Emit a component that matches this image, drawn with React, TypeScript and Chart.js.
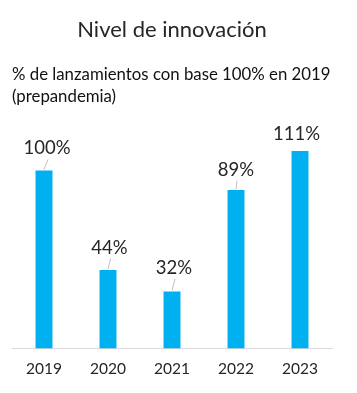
import React, { useEffect, useRef } from "react";
import { Chart, registerables } from "chart.js";

Chart.register(...registerables);

const categories = ["2019", "2020", "2021", "2022", "2023"];
const values = [100, 44, 32, 89, 111];
const valueLabels = ["100%", "44%", "32%", "89%", "111%"];
const titleText = "Nivel de innovación";
const subtitleLines = ["% de lanzamientos con base 100% en 2019", "(prepandemia)"];

const FONT = "Lato, 'Noto Sans', sans-serif";

const labelPlugin = {
  id: "barLabels",
  afterDatasetsDraw(chart: any, _args: any, opts: any) {
    const ctx = chart.ctx;
    const meta = chart.getDatasetMeta(0);
    ctx.save();
    ctx.font = `18.5px ${FONT}`;
    ctx.fillStyle = "#262626";
    ctx.textAlign = "center";
    ctx.textBaseline = "middle";
    meta.data.forEach((bar: any, i: number) => {
      const o = (opts.offsets && opts.offsets[i]) || { dx: 2, dy: 22, line: true };
      const x = bar.x + o.dx;
      const y = bar.y - o.dy;
      ctx.fillText(valueLabels[i], x, y);
      if (o.line) {
        ctx.strokeStyle = "#bfbfbf";
        ctx.lineWidth = 1;
        ctx.beginPath();
        ctx.moveTo(x + 1, y + 11);
        ctx.lineTo(bar.x, bar.y - 1);
        ctx.stroke();
      }
    });
    ctx.restore();
  },
};

export default function App() {
  const ref = useRef<HTMLCanvasElement>(null);
  useEffect(() => {
    if (!ref.current) return;
    const chart = new Chart(ref.current, {
      type: "bar",
      data: {
        labels: categories,
        datasets: [
          {
            data: values,
            backgroundColor: "#00B0F0",
            borderWidth: 0,
            categoryPercentage: 1,
            barPercentage: 0.265,
          },
        ],
      },
      options: {
        responsive: false,
        animation: false,
        layout: { padding: { left: 12, right: 25, bottom: 4, top: 0 } },
        plugins: {
          legend: { display: false },
          tooltip: { enabled: false },
          title: {
            display: true,
            text: titleText,
            color: "#262626",
            font: { family: FONT, size: 22, weight: "normal", lineHeight: 24 / 22 },
            padding: { top: 18, bottom: 22 },
          },
          subtitle: {
            display: true,
            text: subtitleLines,
            align: "start",
            color: "#111111",
            font: { family: FONT, size: 16.8, weight: "normal", lineHeight: 22 / 16.8 },
            padding: { top: 0, bottom: 18 },
          },
          barLabels: {
            offsets: [
              { dx: 3, dy: 22, line: true },
              { dx: 1.5, dy: 22.5, line: true },
              { dx: 2, dy: 23.5, line: true },
              { dx: 0, dy: 20.5, line: true },
              { dx: -3.5, dy: 17, line: false },
            ],
          },
        } as any,
        scales: {
          x: {
            grid: { display: false, drawTicks: false },
            border: { display: true, color: "#d9d9d9", width: 1 },
            ticks: {
              color: "#262626",
              padding: 11,
              font: { family: FONT, size: 15.5 },
            },
          },
          y: {
            display: false,
            min: 0,
            max: 125,
          },
        },
      },
      plugins: [labelPlugin],
    });
    return () => chart.destroy();
  }, []);
  return (
    <div style={{ position: "absolute", left: 0, top: 0, width: 357, height: 393, background: "#fff" }}>
      <canvas ref={ref} width={357} height={393} style={{ width: 357, height: 393 }} />
    </div>
  );
}
